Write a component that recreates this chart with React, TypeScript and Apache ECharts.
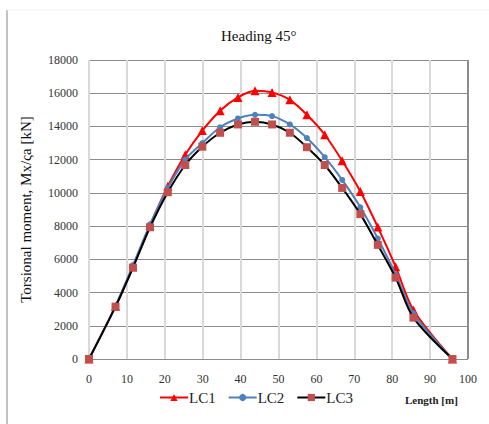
import React, { useEffect, useRef } from "react";
import * as echarts from "echarts";

const lengths = [0, 7.0, 11.6, 16.1, 20.8, 25.4, 29.9, 34.6, 39.3, 43.8, 48.3, 53.0, 57.5, 62.2, 66.8, 71.6, 76.2, 80.9, 85.6, 95.9];
const lc1 = [0, 3180, 5550, 8050, 10400, 12300, 13750, 14950, 15750, 16150, 16050, 15600, 14700, 13500, 11930, 10080, 7940, 5560, 2950, 0];
const lc2 = [0, 3200, 5650, 8100, 10300, 12000, 13000, 13950, 14480, 14700, 14620, 14120, 13300, 12150, 10780, 9130, 7250, 5100, 2750, 0];
const lc3 = [0, 3150, 5500, 7930, 10040, 11680, 12780, 13620, 14120, 14280, 14120, 13620, 12750, 11680, 10300, 8720, 6870, 4900, 2490, 0];
const seriesNames = ["LC1", "LC2", "LC3"];
const titleText = "Heading 45°";
const yName = "Torsional moment, Mx/ςa [kN]";
const xName = "Length [m]";

const serif = "Liberation Serif";

export default function App() {
  const ref = useRef<HTMLDivElement>(null);
  useEffect(() => {
    if (!ref.current) return;
    const chart = echarts.init(ref.current, null, { renderer: "svg" });
    const pair = (ys: number[]) => lengths.map((x, i) => [x, ys[i]]);
    const vColors = Array.from({ length: 11 }, (_, i) => (i === 10 ? "#8c8c8c" : "#d9d9d9"));
    chart.setOption({
      animation: false,
      backgroundColor: "#ffffff",
      grid: { left: 89, right: 21, top: 60, bottom: 65 },
      xAxis: {
        type: "value",
        min: 0,
        max: 100,
        interval: 10,
        axisLine: { show: false },
        axisTick: { show: false },
        axisLabel: { margin: 14, fontFamily: serif, fontSize: 12, color: "#333" },
        splitLine: { show: true, lineStyle: { color: vColors, width: 2 } },
      },
      yAxis: {
        type: "value",
        min: 0,
        max: 18000,
        interval: 2000,
        axisLine: { show: false },
        axisTick: { show: false },
        axisLabel: {
          margin: 11,
          fontFamily: serif,
          fontSize: 12,
          color: "#333",
          formatter: (v: number) => String(v),
        },
        splitLine: { show: true, lineStyle: { color: "#8c8c8c", width: 1 } },
        name: yName,
        nameLocation: "middle",
        nameGap: 56,
        nameTextStyle: { fontFamily: serif, fontSize: 15, color: "#111" },
      },
      legend: {
        bottom: 14,
        left: 154,
        itemWidth: 28,
        itemHeight: 9,
        itemGap: 12,
        textStyle: { fontFamily: serif, fontSize: 15, color: "#222", padding: [0, 0, 0, -4] },
        data: seriesNames,
      },
      graphic: [
        {
          type: "text",
          left: 259 - 38,
          top: 28,
          style: { text: titleText, font: `15px ${serif}`, fill: "#111" },
        },
        {
          type: "text",
          left: 405,
          top: 394,
          style: { text: xName, font: `bold 11px ${serif}`, fill: "#222" },
        },
        {
          type: "line",
          shape: { x1: 7, y1: 10, x2: 7, y2: 424 },
          style: { stroke: "#888", lineWidth: 1 },
        },
        {
          type: "line",
          shape: { x1: 7, y1: 10, x2: 489, y2: 10 },
          style: { stroke: "#eeeeee", lineWidth: 1 },
        },
      ],
      series: [
        {
          name: "LC1",
          type: "line",
          data: pair(lc1),
          smooth: 0.3,
          symbol: "triangle",
          symbolSize: 9,
          lineStyle: { color: "#ff0000", width: 2 },
          itemStyle: { color: "#ff0000" },
          z: 3,
        },
        {
          name: "LC2",
          type: "line",
          data: pair(lc2),
          smooth: 0.3,
          symbol: "circle",
          symbolSize: 6,
          lineStyle: { color: "#4f81bd", width: 2 },
          itemStyle: { color: "#4f81bd" },
          z: 4,
        },
        {
          name: "LC3",
          type: "line",
          data: pair(lc3),
          smooth: 0.3,
          symbol: "rect",
          symbolSize: 8,
          lineStyle: { color: "#000000", width: 2 },
          itemStyle: { color: "#c0504d" },
          z: 5,
        },
      ],
    });
    return () => chart.dispose();
  }, []);
  return (
    <div
      ref={ref}
      style={{ position: "absolute", left: 0, top: 0, width: 489, height: 424 }}
    />
  );
}
